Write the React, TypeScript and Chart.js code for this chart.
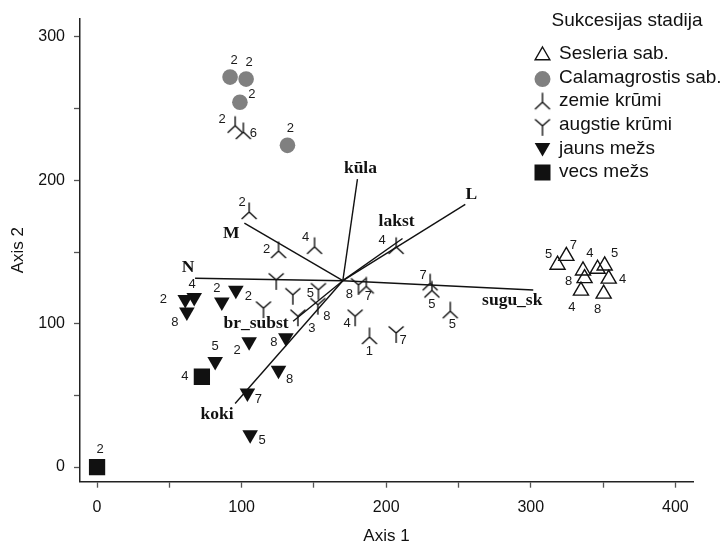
import React, { useEffect, useRef } from 'react';
import { Chart, registerables } from 'chart.js';

Chart.register(...registerables);

// ---------- axis ticks ----------
const xTickValues = [0, 50, 100, 150, 200, 250, 300, 350, 400];
const yTickValues = [0, 50, 100, 150, 200, 250, 300];
const axisTitleX = 'Axis 1';
const axisTitleY = 'Axis 2';

// ---------- legend ----------
const legendTitle = 'Sukcesijas stadija';
const legendNames = ['Sesleria sab.', 'Calamagrostis sab.', 'zemie krūmi', 'augstie krūmi', 'jauns mežs', 'vecs mežs'];

// ---------- Sesleria sab. ----------
const sesleriaX = [324.6, 318.5, 336.1, 346.2, 351.1, 337.2, 334.7, 353.9, 350.4];
const sesleriaY = [147.2, 141.0, 137.0, 138.2, 140.5, 131.7, 123.0, 131.3, 120.9];
const sesleriaLabels = ['7', '5', '4', '', '5', '8', '4', '4', '8'];

// ---------- Calamagrostis sab. ----------
const calamX = [92.0, 103.1, 98.8, 131.7];
const calamY = [272.0, 270.6, 254.5, 224.4];
const calamLabels = ['2', '2', '2', '2'];

// ---------- zemie krūmi ----------
const zemieX = [95.5, 101.2, 105.2, 125.5, 150.4, 206.9, 186.2, 230.4, 231.6, 244.3, 188.4];
const zemieY = [238.1, 233.7, 177.9, 150.7, 153.6, 153.6, 126.0, 128.2, 123.2, 108.7, 90.7];
const zemieLabels = ['2', '6', '2', '2', '4', '4', '7', '7', '5', '5', '1'];

// ---------- augstie krūmi ----------
const augstieX = [123.9, 135.4, 153.1, 115.1, 138.9, 152.7, 180.8, 178.5, 206.9];
const augstieY = [130.6, 120.2, 123.7, 110.9, 105.2, 113.3, 127.1, 105.2, 93.6];
const augstieLabels = ['', '', '5', '2', '3', '8', '8', '4', '7'];

// ---------- jauns mežs ----------
const jaunsX = [67.2, 61.0, 62.1, 86.3, 96.0, 105.2, 130.6, 81.7, 125.5, 104.0, 105.9];
const jaunsY = [118.3, 116.9, 108.2, 115.1, 123.4, 87.4, 90.2, 73.6, 67.6, 51.7, 22.6];
const jaunsLabels = ['4', '2', '8', '2', '', '2', '8', '5', '8', '7', '5'];

// ---------- vecs mežs ----------
const vecsX = [72.5, 0];
const vecsY = [63.0, 0];
const vecsLabels = ['4', '2'];

// ---------- biplot vectors ----------
const vectorOriginX = 170.0;
const vectorOriginY = 130.0;
const vectorNames = ['kūla', 'L', 'lakst', 'sugu_sk', 'M', 'N', 'br_subst', 'koki'];
const vectorX = [180.1, 254.7, 211.3, 301.7, 101.9, 67.8, 135.6, 95.5];
const vectorY = [200.9, 183.2, 159.4, 123.5, 170.2, 131.7, 101.7, 44.3];

// ---------- label placement (pixel offsets, styling only) ----------
const sesleriaLabelOffsets = [[7, -11], [-9, -10], [7, -17], [0, 0], [10, -12], [-16, 3], [-9, 17], [14, 1], [-6, 16]];
const calamLabelOffsets = [[4, -17], [3, -17], [12, -8], [3, -17]];
const zemieLabelOffsets = [[-13, -6], [10, 1], [-7, -10], [-12, -2], [-9, -9], [-14, -6], [2, 10], [-7, -8], [0, 14], [2, 13], [0, 14]];
const augstieLabelOffsets = [[0, 0], [0, 0], [-8, 4], [-15, -12], [14, 12], [9, 12], [-9, 10], [-8, 7], [7, 8]];
const jaunsLabelOffsets = [[-2, -13], [-22, 0], [-12, 10], [-5, -14], [0, 0], [-12, 9], [-12, 5], [0, -15], [11, 9], [11, 6], [12, 6]];
const vecsLabelOffsets = [[-17, 0], [3, -18]];
const vectorLabelOffsets = [[3, -11], [6, -10], [-6, -17], [-21, 10], [-13, 10], [-7, -11], [-37, 2], [-18, 11]];

const SANS = '"Liberation Sans", Arial, Helvetica, sans-serif';
const SERIF = '"Liberation Serif", "Times New Roman", serif';
const INK = '#111111';

function makeBranch(kind: 'zemie' | 'augstie'): HTMLCanvasElement {
  const c = document.createElement('canvas');
  c.width = 22;
  c.height = 22;
  const g = c.getContext('2d')!;
  g.strokeStyle = INK;
  g.lineWidth = 1.4;
  g.beginPath();
  const cx = 11, cy = 11;
  if (kind === 'zemie') {
    g.moveTo(cx, cy - 9.5); g.lineTo(cx, cy);
    g.moveTo(cx - 7.5, cy + 7); g.lineTo(cx, cy); g.lineTo(cx + 7.5, cy + 7);
  } else {
    g.moveTo(cx - 7.5, cy - 6.5); g.lineTo(cx, cy); g.lineTo(cx + 7.5, cy - 6.5);
    g.moveTo(cx, cy); g.lineTo(cx, cy + 10);
  }
  g.stroke();
  return c;
}

const pts = (xs: number[], ys: number[]) => xs.map((x, i) => ({ x, y: ys[i] }));

export default function App() {
  const ref = useRef<HTMLCanvasElement>(null);

  useEffect(() => {
    if (!ref.current) return;
    const zemieImg = makeBranch('zemie');
    const augstieImg = makeBranch('augstie');

    const vectorDatasets = vectorNames.map((n, i) => ({
      type: 'scatter' as const,
      label: n,
      data: [{ x: vectorOriginX, y: vectorOriginY }, { x: vectorX[i], y: vectorY[i] }],
      showLine: true,
      borderColor: INK,
      borderWidth: 1.4,
      pointRadius: 0,
      order: 10,
    }));

    const labelPlugin = {
      id: 'pointAndVectorLabels',
      afterDatasetsDraw(chart: any) {
        const ctx = chart.ctx as CanvasRenderingContext2D;
        ctx.save();
        ctx.textAlign = 'center';
        ctx.textBaseline = 'middle';
        ctx.fillStyle = '#1a1a1a';
        ctx.font = `13px ${SANS}`;
        chart.data.datasets.forEach((ds: any, i: number) => {
          if (!ds.pointLabels) return;
          const meta = chart.getDatasetMeta(i);
          meta.data.forEach((el: any, j: number) => {
            const t = ds.pointLabels[j];
            if (!t) return;
            const [dx, dy] = ds.labelOffsets[j];
            ctx.fillText(t, el.x + dx, el.y + dy);
          });
        });
        const xs = chart.scales.x, ys = chart.scales.y;
        ctx.font = `bold 17.5px ${SERIF}`;
        ctx.fillStyle = INK;
        vectorNames.forEach((n, i) => {
          const px = xs.getPixelForValue(vectorX[i]) + vectorLabelOffsets[i][0];
          const py = ys.getPixelForValue(vectorY[i]) + vectorLabelOffsets[i][1];
          ctx.fillText(n, px, py);
        });
        ctx.restore();
      },
    };

    const legendPlugin = {
      id: 'customLegend',
      afterDraw(chart: any) {
        const ctx = chart.ctx as CanvasRenderingContext2D;
        ctx.save();
        ctx.fillStyle = INK;
        ctx.font = `19px ${SANS}`;
        ctx.textBaseline = 'middle';
        ctx.textAlign = 'center';
        ctx.fillText(legendTitle, 627, 21);
        ctx.textAlign = 'left';
        const sx = 542.5;
        const rowY = [54, 77.6, 101.2, 124.8, 148.4, 172];
        legendNames.forEach((n, i) => {
          const y = rowY[i];
          ctx.fillStyle = INK;
          ctx.fillText(n, 559, y);
          ctx.beginPath();
          if (i === 0) {
            const r = 8.5;
            for (let k = 0; k < 3; k++) {
              const a = (k * 2 * Math.PI) / 3;
              const vx = sx + Math.sin(a) * r, vy = y + 1.5 - Math.cos(a) * r;
              if (k === 0) ctx.moveTo(vx, vy); else ctx.lineTo(vx, vy);
            }
            ctx.closePath();
            ctx.strokeStyle = INK;
            ctx.lineWidth = 1.4;
            ctx.stroke();
          } else if (i === 1) {
            ctx.arc(sx, y + 1.5, 8, 0, Math.PI * 2);
            ctx.fillStyle = '#808080';
            ctx.fill();
          } else if (i === 2) {
            ctx.drawImage(zemieImg, sx - 11, y - 10);
          } else if (i === 3) {
            ctx.drawImage(augstieImg, sx - 11, y - 10);
          } else if (i === 4) {
            const r = 9;
            for (let k = 0; k < 3; k++) {
              const a = Math.PI + (k * 2 * Math.PI) / 3;
              const vx = sx + Math.sin(a) * r, vy = y - 1 - Math.cos(a) * r;
              if (k === 0) ctx.moveTo(vx, vy); else ctx.lineTo(vx, vy);
            }
            ctx.closePath();
            ctx.fillStyle = INK;
            ctx.fill();
          } else {
            ctx.fillStyle = INK;
            ctx.fillRect(sx - 8, y - 7.5, 16, 16);
          }
        });
        ctx.restore();
      },
    };

    const chart = new Chart(ref.current, {
      type: 'scatter',
      data: {
        datasets: [
          ...vectorDatasets,
          {
            label: legendNames[0],
            data: pts(sesleriaX, sesleriaY),
            pointStyle: 'triangle',
            pointRadius: 8.7,
            backgroundColor: 'rgba(0,0,0,0)',
            borderColor: INK,
            borderWidth: 1.4,
            pointLabels: sesleriaLabels,
            labelOffsets: sesleriaLabelOffsets,
          } as any,
          {
            label: legendNames[1],
            data: pts(calamX, calamY),
            pointStyle: 'circle',
            pointRadius: 7.8,
            backgroundColor: '#808080',
            borderColor: '#808080',
            borderWidth: 0,
            pointLabels: calamLabels,
            labelOffsets: calamLabelOffsets,
          } as any,
          {
            label: legendNames[2],
            data: pts(zemieX, zemieY),
            pointStyle: zemieImg,
            pointRadius: 9,
            pointLabels: zemieLabels,
            labelOffsets: zemieLabelOffsets,
          } as any,
          {
            label: legendNames[3],
            data: pts(augstieX, augstieY),
            pointStyle: augstieImg,
            pointRadius: 9,
            pointLabels: augstieLabels,
            labelOffsets: augstieLabelOffsets,
          } as any,
          {
            label: legendNames[4],
            data: pts(jaunsX, jaunsY),
            pointStyle: 'triangle',
            rotation: 180,
            pointRadius: 9,
            backgroundColor: INK,
            borderColor: INK,
            borderWidth: 0,
            pointLabels: jaunsLabels,
            labelOffsets: jaunsLabelOffsets,
          } as any,
          {
            label: legendNames[5],
            data: pts(vecsX, vecsY),
            pointStyle: 'rect',
            pointRadius: 11.5,
            backgroundColor: INK,
            borderColor: '#333',
            borderWidth: 0,
            pointLabels: vecsLabels,
            labelOffsets: vecsLabelOffsets,
          } as any,
        ],
      },
      options: {
        animation: false,
        responsive: true,
        maintainAspectRatio: false,
        events: [],
        layout: { padding: { top: 15, right: 32, left: 0, bottom: 0 } },
        plugins: {
          legend: { display: false },
          tooltip: { enabled: false },
        },
        scales: {
          x: {
            type: 'linear',
            min: -11.8,
            max: 412.2,
            afterBuildTicks: (s: any) => { s.ticks = xTickValues.map((v) => ({ value: v })); },
            afterFit: (s: any) => { s.height = 65.3; },
            grid: { drawOnChartArea: false, drawTicks: true, tickLength: 6, tickColor: '#555', tickWidth: 1.3 },
            border: { display: true, color: '#222', width: 1.5 },
            ticks: {
              autoSkip: false,
              maxRotation: 0,
              padding: 10,
              color: INK,
              font: { family: SANS, size: 16 },
              callback: (v: any) => (Number(v) % 100 === 0 ? String(v) : ''),
            },
            title: { display: true, text: axisTitleX, color: INK, font: { family: SANS, size: 17 }, padding: { top: 0, bottom: 0 } },
          },
          y: {
            type: 'linear',
            min: -10.2,
            max: 312.8,
            afterBuildTicks: (s: any) => { s.ticks = yTickValues.map((v) => ({ value: v })); },
            afterFit: (s: any) => { s.width = 80; },
            grid: { drawOnChartArea: false, drawTicks: true, tickLength: 6, tickColor: '#555', tickWidth: 1.3 },
            border: { display: true, color: '#222', width: 1.5 },
            ticks: {
              autoSkip: false,
              padding: 9,
              color: INK,
              font: { family: SANS, size: 16 },
              callback: (v: any) => (Number(v) % 100 === 0 ? String(v) : ''),
            },
            title: { display: true, text: axisTitleY, color: INK, font: { family: SANS, size: 17 }, padding: { top: 8, bottom: 0 } },
          },
        },
      } as any,
      plugins: [labelPlugin, legendPlugin],
    });
    return () => chart.destroy();
  }, []);

  return (
    <div style={{ position: 'fixed', left: 0, top: 0, width: 725, height: 547, background: '#fff' }}>
      <canvas ref={ref} />
    </div>
  );
}
